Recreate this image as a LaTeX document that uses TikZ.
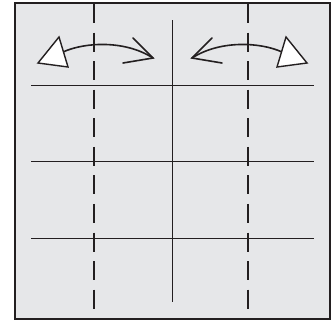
\documentclass[tikz,border=0pt]{standalone}
\definecolor{paper}{RGB}{230,231,233}
\definecolor{ink}{RGB}{35,31,32}
\begin{document}
\begin{tikzpicture}[x=1pt,y=-1pt,
  frame/.style={draw=ink,line width=2pt,fill=paper},
  fold/.style={draw=ink,line width=1.6pt,dash pattern=on 19pt off 9.57pt},
  crease/.style={draw=ink,line width=1pt},
  swing/.style={draw=ink,line width=1.6pt,line cap=round},
  openhead/.style={draw=ink,line width=1.4pt,fill=white,line join=miter}]
\useasboundingbox (0,0) rectangle (336,322);
\draw[frame] (15,3.2) rectangle (330,319);
% creases
\draw[crease] (172.3,20) -- (172.3,302);
\draw[crease] (31,85) -- (314,85);
\draw[crease] (31,161.7) -- (314,161.7);
\draw[crease] (31,238) -- (314,238);
% fold lines
\draw[fold] (94,4) -- (94,310);
\draw[fold] (248,4) -- (248,310);
% left arrow
\draw[swing] (63,52) .. controls (85,42) and (125,40) .. (153,58);
\draw[swing] (133,38) -- (153,58) -- (123,63);
\draw[openhead] (59,37) -- (38,63) -- (68,67) -- cycle;
% right arrow
\draw[swing] (282,52) .. controls (260,42) and (220,40) .. (192,58);
\draw[swing] (212,38) -- (192,58) -- (222,63);
\draw[openhead] (286,37) -- (307,63) -- (277,67) -- cycle;
\end{tikzpicture}
\end{document}
